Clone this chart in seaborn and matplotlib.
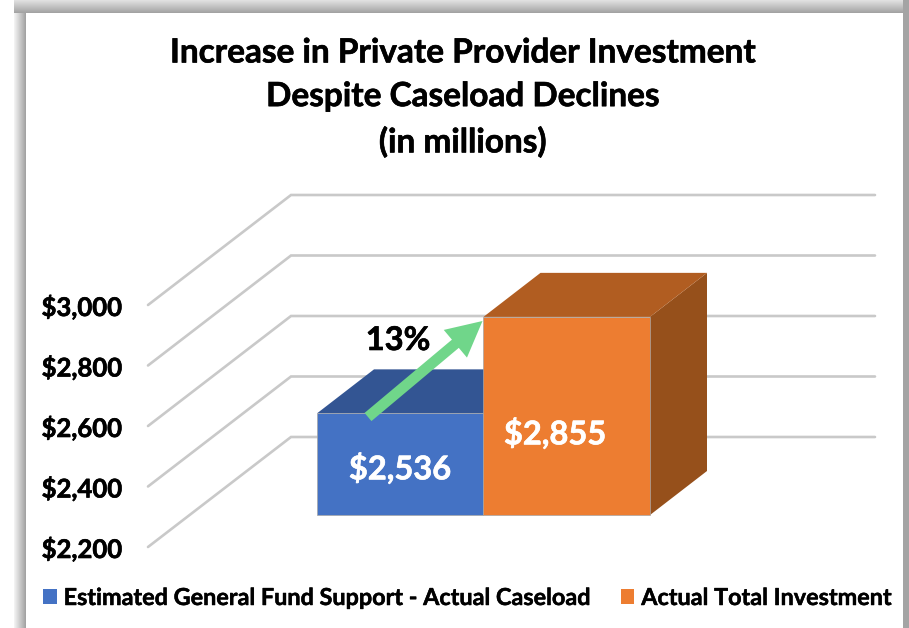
import numpy as np
import pandas as pd
import matplotlib
matplotlib.use("Agg")
import matplotlib.pyplot as plt
import matplotlib.patheffects as pe
from matplotlib.patches import Polygon, Rectangle
import seaborn as sns

# chart values
CATEGORIES = ["Estimated General Fund Support - Actual Caseload", "Actual Total Investment"]
VALUES     = [2536, 2855]
VALUE_TEXT = ["$2,536", "$2,855"]
TICKS      = [2200, 2400, 2600, 2800, 3000]
TITLE      = "Increase in Private Provider Investment\nDespite Caseload Declines\n(in millions)"
GROWTH     = "13%"

W, H = 909, 628
PX_PER_X = 166.5     # one category in pixels
PX_PER_Y = 0.3025    # one dollar (million) in pixels
BASE_PX  = (317, 515)  # lower left corner of the first bar

FRONT  = {"#4472C4": ("#335593", "#2B4A80"), "#ED7D31": ("#B15D21", "#96501B")}
COLORS = list(FRONT)
GRID   = "#C9C9C9"


def x_of(px):
    return (px - BASE_PX[0]) / PX_PER_X - 0.5


def y_of(py):
    return TICKS[0] + (BASE_PX[1] - py) / PX_PER_Y


def heavy(color, w=0.45):
    # Lato bold is a bit thin next to the original face
    return [pe.withStroke(linewidth=w, foreground=color)]


sns.set_theme(style="white")
plt.rcParams["font.family"] = ["Lato", "DejaVu Sans"]
plt.rcParams["font.weight"] = "bold"

fig = plt.figure(figsize=(W / 100, H / 100), dpi=100, facecolor="white")

# window shadow round the slide
for i in range(13):
    g = str(0.88 - 0.24 * i / 12)
    fig.add_artist(Rectangle((14 / W, 1 - (i + 1) / H), 1 - 14 / W, 1 / H, transform=fig.transFigure, color=g, lw=0))
for i in range(12):
    g = str(0.95 - 0.31 * i / 11)
    fig.add_artist(Rectangle(((14 + i) / W, 0), 1 / W, 1 - 13 / H, transform=fig.transFigure, color=g, lw=0))
fig.add_artist(Rectangle((903 / W, 0), 6 / W, 1, transform=fig.transFigure, color="#A4A4A4", lw=0))

ax = fig.add_axes([0, 0, 1, 1])
ax.patch.set_alpha(0)

df = pd.DataFrame({"category": CATEGORIES, "value": VALUES})
sns.barplot(data=df, x="category", y="value", hue="category", palette=COLORS, width=1.0,
            dodge=False, legend=False, saturation=1, ax=ax, zorder=5,
            edgecolor="#A6A6A6", linewidth=0.5)

ax.set_xlim(x_of(0), x_of(W))
ax.set_ylim(y_of(H), y_of(0))
ax.axis("off")

# the value axis starts at the first tick, so bars sit on it
for bar, v in zip(ax.patches, VALUES):
    bar.set_y(TICKS[0])
    bar.set_height(v - TICKS[0])

# depth of the box and of the walls, in data units
dx, dy = 57 / PX_PER_X, 44 / PX_PER_Y
wall_front, wall_back, wall_end = x_of(148), x_of(291), x_of(875)
back_dy, front_dy = 78 / PX_PER_Y, -32 / PX_PER_Y

for t in TICKS:
    ax.plot([wall_front, wall_back, wall_end], [t + front_dy, t + back_dy, t + back_dy],
            color=GRID, lw=1.9, zorder=1, solid_joinstyle="miter")
    ax.text(x_of(122), t + front_dy, f"${t:,}", ha="right", va="center_baseline",
            fontsize=18.5, color="black", path_effects=heavy("black"))

# side and top faces of the boxes
for bar, col, v in zip(list(ax.patches), COLORS, VALUES):
    x0, x1 = bar.get_x(), bar.get_x() + bar.get_width()
    top_col, side_col = FRONT[col]
    z = 2 if col == COLORS[0] else 6
    bar.set_zorder(z + 1)
    ax.add_patch(Polygon([(x1, TICKS[0]), (x1 + dx, TICKS[0] + dy), (x1 + dx, v + dy), (x1, v)],
                         facecolor=side_col, edgecolor="none", zorder=z))
    ax.add_patch(Polygon([(x0, v), (x1, v), (x1 + dx, v + dy), (x0 + dx, v + dy)],
                         facecolor=top_col, edgecolor="none", zorder=z))

ax.text(x_of(400), y_of(466), VALUE_TEXT[0], color="white", fontsize=23.5, ha="center",
        va="center_baseline", zorder=10, path_effects=heavy("white"))
ax.text(x_of(555), y_of(431), VALUE_TEXT[1], color="white", fontsize=23.5, ha="center",
        va="center_baseline", zorder=10, path_effects=heavy("white"))

# growth arrow between the two bar tops
ax.annotate("", xy=(x_of(482.5), y_of(321)), xytext=(x_of(368), y_of(417)), zorder=11,
            arrowprops=dict(width=7.7, headwidth=26, headlength=25.5, shrink=0,
                            facecolor="#70D68A", edgecolor="none"))
ax.text(x_of(398), y_of(338), GROWTH, color="black", fontsize=23.5, ha="center",
        va="center_baseline", zorder=11, path_effects=heavy("black"))

ax.text(x_of(463), y_of(98), TITLE, color="black", fontsize=24, ha="center", va="center",
        linespacing=1.61, zorder=11, path_effects=heavy("black"))

# legend drawn from the bars
handles = [Rectangle((0, 0), 1, 1, facecolor=c, edgecolor="none") for c in COLORS]
leg = ax.legend(handles, CATEGORIES, ncol=2, frameon=False, fontsize=16.85, loc="center left",
                bbox_to_anchor=(43 / W, 1 - 598.5 / H), handlelength=0.58, handleheight=0.58,
                handletextpad=0.3, columnspacing=1.37, borderpad=0, borderaxespad=0,
                labelcolor="black")
for t in leg.get_texts():
    t.set_path_effects(heavy("black", 0.35))

fig.savefig("out.png", dpi=100)
